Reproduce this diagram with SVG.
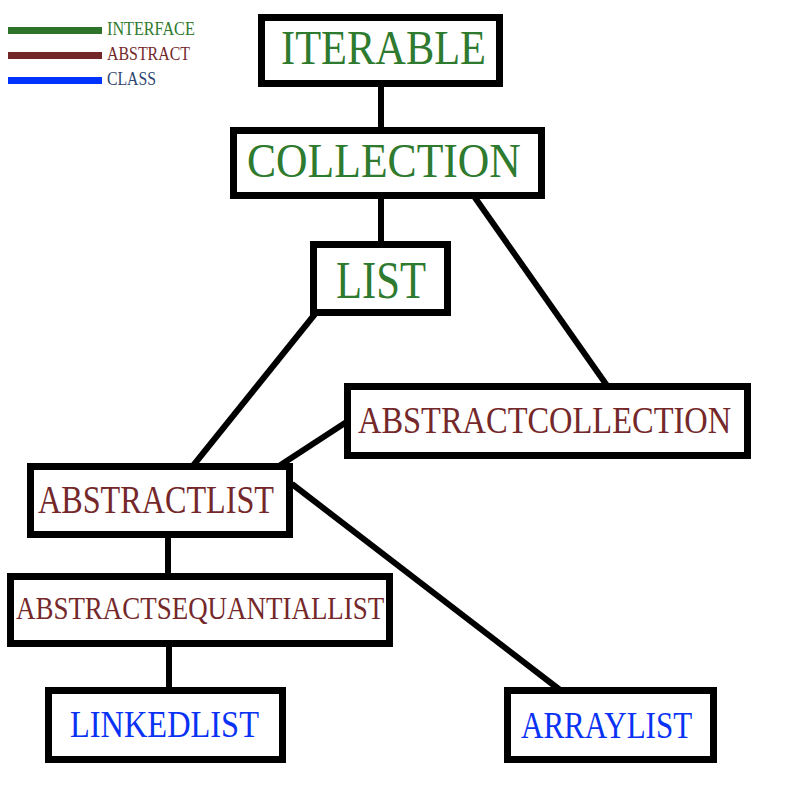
<svg xmlns="http://www.w3.org/2000/svg" width="787" height="787" viewBox="0 0 787 787">
<style>
.box{fill:#ffffff;stroke:#000000;stroke-width:7}
.t{font-family:"Liberation Serif","DejaVu Serif",serif}
.i{fill:#2e7a2e}
.a{fill:#74282a}
.c{fill:#0a32f5}
.edge{stroke:#000000;stroke-width:6;fill:none}
</style>
<rect width="787" height="787" fill="#ffffff"/>
<g id="legend">
<rect x="8" y="27" width="94" height="7" fill="#2d7329"/>
<rect x="8" y="52" width="94" height="7" fill="#722828"/>
<rect x="8" y="77" width="94" height="7" fill="#0033ff"/>
<text class="t" transform="translate(107,35) scale(0.899,1)" font-size="18" fill="#2e7a2e">INTERFACE</text>
<text class="t" transform="translate(107,60) scale(0.883,1)" font-size="18" fill="#74282a">ABSTRACT</text>
<text class="t" transform="translate(107,85) scale(0.875,1)" font-size="18" fill="#2f4670">CLASS</text>
</g>
<g id="connectors">
<line class="edge" x1="381" y1="86" x2="381" y2="130"/>
<line class="edge" x1="381" y1="199" x2="381" y2="244"/>
<line class="edge" x1="471" y1="192" x2="608" y2="387"/>
<line class="edge" x1="315" y1="314" x2="192" y2="467"/>
<line class="edge" x1="348" y1="421" x2="279" y2="466"/>
<line class="edge" x1="292" y1="484" x2="560" y2="690"/>
<line class="edge" x1="168" y1="537" x2="168" y2="577"/>
<line class="edge" x1="169" y1="647" x2="169" y2="691"/>
</g>
<g id="iterable">
<rect class="box" x="261.5" y="17.5" width="238" height="66"/>
<text class="t i" transform="translate(281,64) scale(0.884,1)" font-size="48">ITERABLE</text>
</g>
<g id="collection">
<rect class="box" x="233.5" y="130.5" width="308" height="65"/>
<text class="t i" transform="translate(247,177) scale(0.909,1)" font-size="48">COLLECTION</text>
</g>
<g id="list">
<rect class="box" x="313.5" y="244.5" width="134" height="68"/>
<text class="t i" transform="translate(336,298) scale(0.82,1)" font-size="52">LIST</text>
</g>
<g id="abstractcollection">
<rect class="box" x="347.5" y="386.5" width="400" height="69"/>
<text class="t a" transform="translate(358,433) scale(0.854,1)" font-size="38">ABSTRACTCOLLECTION</text>
</g>
<g id="abstractlist">
<rect class="box" x="30.5" y="466.5" width="259" height="68"/>
<text class="t a" transform="translate(38,513) scale(0.825,1)" font-size="39">ABSTRACTLIST</text>
</g>
<g id="abstractsequentiallist">
<rect class="box" x="10.5" y="576.5" width="379" height="67"/>
<text class="t a" transform="translate(16,619) scale(0.842,1)" font-size="32">ABSTRACTSEQUANTIALLIST</text>
</g>
<g id="linkedlist">
<rect class="box" x="48.5" y="690.5" width="234" height="69"/>
<text class="t c" transform="translate(70,737) scale(0.853,1)" font-size="38">LINKEDLIST</text>
</g>
<g id="arraylist">
<rect class="box" x="507.5" y="690.5" width="206" height="69"/>
<text class="t c" transform="translate(521,738) scale(0.816,1)" font-size="38">ARRAYLIST</text>
</g>
</svg>
